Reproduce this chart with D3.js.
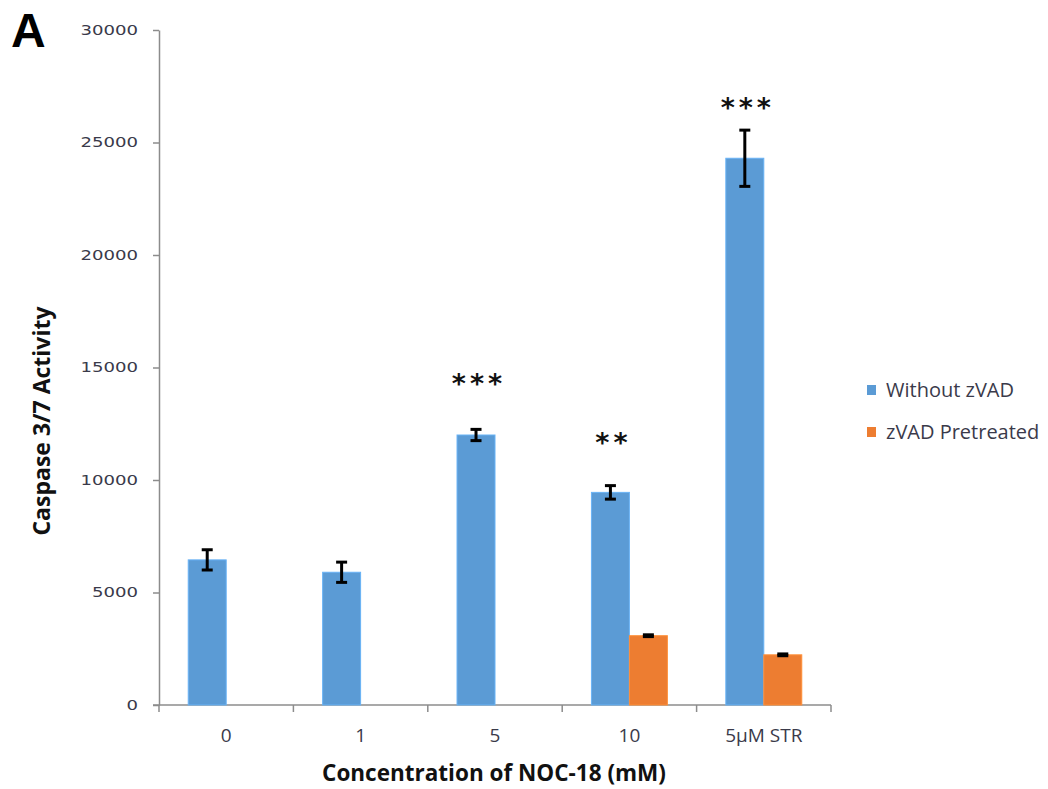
<!DOCTYPE html>
<html>
<head>
<meta charset="utf-8">
<script src="https://d3js.org/d3.v7.min.js"></script>
<style>
  html, body { margin: 0; padding: 0; background: #fff; }
  svg { display: block; }
</style>
</head>
<body>
<svg id="chart" width="1048" height="789"></svg>
<script>
// ---- data ----
const categories = ["0", "1", "5", "10", "5\u00B5M STR"];
const seriesNames = ["Without zVAD", "zVAD Pretreated"];
const withoutZVAD = [6450, 5900, 12000, 9450, 24300];
const withoutZVADErr = [450, 450, 250, 300, 1250];
const zVADPretreated = [null, null, null, 3080, 2230];
const zVADPretreatedErr = [null, null, null, 40, 40];
const significance = ["", "", "***", "**", "***"];
const significanceLevel = [null, null, 14550, 11900, 26800];
const yTicks = [0, 5000, 10000, 15000, 20000, 25000, 30000];
const yTitle = "Caspase 3/7 Activity";
const xTitle = "Concentration of NOC-18 (mM)";
const panelLabel = "A";

const colors = ["#5B9BD5", "#ED7D31"];

// ---- layout ----
const svg = d3.select("#chart");
const plotLeft = 159, plotRight = 831, plotTop = 30, plotBottom = 705;

const x = d3.scaleBand().domain(categories).range([plotLeft, plotRight])
  .paddingInner(0.435).paddingOuter(0.2175);
const xs = d3.scaleBand().domain(seriesNames).range([0, x.bandwidth()]).padding(0);
const y = d3.scaleLinear().domain([0, 30000]).range([plotBottom, plotTop]);

const axisColor = "#8c8c8c";

// y axis
const yAxis = svg.append("g").attr("transform", `translate(${plotLeft},0)`)
  .call(d3.axisLeft(y).tickValues(yTicks).tickSize(6).tickSizeOuter(0).tickFormat(d3.format("d")));
yAxis.select(".domain").attr("stroke", axisColor).attr("stroke-width", 1.5);
yAxis.selectAll(".tick line").attr("stroke", axisColor).attr("stroke-width", 1.5);
yAxis.selectAll(".tick text")
  .attr("x", -21)
  .attr("fill", "#3a3a4a")
  .style("font-family", "'DejaVu Sans', Verdana, sans-serif")
  .style("font-size", "14px")
  .attr("textLength", d => String(d).length * 11.5)
  .attr("lengthAdjust", "spacingAndGlyphs");

// x axis
const xAxisG = svg.append("g").attr("transform", `translate(0,${plotBottom})`);
xAxisG.append("line").attr("x1", plotLeft - 6).attr("x2", plotRight).attr("y1", 0).attr("y2", 0)
  .attr("stroke", axisColor).attr("stroke-width", 1.5);
const boundaries = [plotLeft].concat(categories.map(c => x(c) + x.bandwidth() + x.step() * 0.2175));
xAxisG.selectAll("line.tk").data(boundaries).enter().append("line").attr("class", "tk")
  .attr("x1", d => d).attr("x2", d => d).attr("y1", 0).attr("y2", 7)
  .attr("stroke", axisColor).attr("stroke-width", 1.5);
xAxisG.selectAll("text.lbl").data(categories).enter().append("text").attr("class", "lbl")
  .attr("x", d => x(d) + x.bandwidth() / 2).attr("y", 37)
  .attr("text-anchor", "middle")
  .attr("fill", "#3a3a4a")
  .style("font-family", "'Open Sans', sans-serif")
  .style("font-size", "19px")
  .text(d => d);

// bars
const series = [
  { name: seriesNames[0], values: withoutZVAD, errs: withoutZVADErr, color: colors[0] },
  { name: seriesNames[1], values: zVADPretreated, errs: zVADPretreatedErr, color: colors[1] }
];
series.forEach(s => {
  const data = categories.map((c, i) => ({ c, v: s.values[i], e: s.errs[i] })).filter(d => d.v != null);
  const g = svg.append("g");
  g.selectAll("rect").data(data).enter().append("rect")
    .attr("x", d => x(d.c) + xs(s.name))
    .attr("width", xs.bandwidth())
    .attr("y", d => y(d.v))
    .attr("height", d => y(0) - y(d.v))
    .attr("fill", s.color)
    .attr("stroke", d3.color(s.color).brighter(0.4))
    .attr("stroke-width", 1);
  // error bars
  const eg = g.selectAll("g.err").data(data).enter().append("g").attr("class", "err");
  const cx = d => x(d.c) + xs(s.name) + xs.bandwidth() / 2;
  eg.append("line").attr("x1", cx).attr("x2", cx)
    .attr("y1", d => y(d.v + d.e)).attr("y2", d => y(d.v - d.e))
    .attr("stroke", "#000").attr("stroke-width", 3);
  eg.append("line").attr("x1", d => cx(d) - 5.5).attr("x2", d => cx(d) + 5.5)
    .attr("y1", d => y(d.v + d.e)).attr("y2", d => y(d.v + d.e))
    .attr("stroke", "#000").attr("stroke-width", 3);
  eg.append("line").attr("x1", d => cx(d) - 5.5).attr("x2", d => cx(d) + 5.5)
    .attr("y1", d => y(d.v - d.e)).attr("y2", d => y(d.v - d.e))
    .attr("stroke", "#000").attr("stroke-width", 3);
});

// significance
svg.append("g").selectAll("text").data(categories.map((c, i) => ({ c, s: significance[i], lv: significanceLevel[i] })).filter(d => d.s))
  .enter().append("text")
  .attr("x", d => x(d.c) + xs(seriesNames[0]) + xs.bandwidth() / 2 + 3)
  .attr("y", d => y(d.lv) + 15)
  .attr("text-anchor", "middle")
  .attr("fill", "#111")
  .style("font-family", "'DejaVu Sans', sans-serif")
  .style("font-weight", "bold")
  .style("font-size", "27px")
  .style("letter-spacing", "4px")
  .text(d => d.s);

// axis titles
svg.append("text")
  .attr("transform", `translate(50,421) rotate(-90)`)
  .attr("text-anchor", "middle")
  .attr("fill", "#111")
  .style("font-family", "'Open Sans', sans-serif")
  .style("font-weight", "bold")
  .style("font-size", "23px")
  .text(yTitle);

svg.append("text")
  .attr("x", 494).attr("y", 781)
  .attr("text-anchor", "middle")
  .attr("fill", "#111")
  .style("font-family", "'Open Sans', sans-serif")
  .style("font-weight", "bold")
  .style("font-size", "22.5px")
  .text(xTitle);

// panel label
svg.append("text")
  .attr("x", 11).attr("y", 47)
  .attr("fill", "#000")
  .style("font-family", "'Liberation Sans', Arial, sans-serif")
  .style("font-weight", "bold")
  .style("font-size", "48px")
  .text(panelLabel);

// legend
const legend = svg.append("g");
const legendY = [390, 432];
seriesNames.forEach((n, i) => {
  legend.append("rect").attr("x", 867).attr("y", legendY[i] - 5).attr("width", 9).attr("height", 10)
    .attr("fill", colors[i]);
  legend.append("text").attr("x", 886).attr("y", legendY[i] + 7)
    .attr("fill", "#3a3a4a")
    .style("font-family", "'Open Sans', sans-serif")
    .style("font-size", "20px")
    .text(n);
});
</script>
</body>
</html>
